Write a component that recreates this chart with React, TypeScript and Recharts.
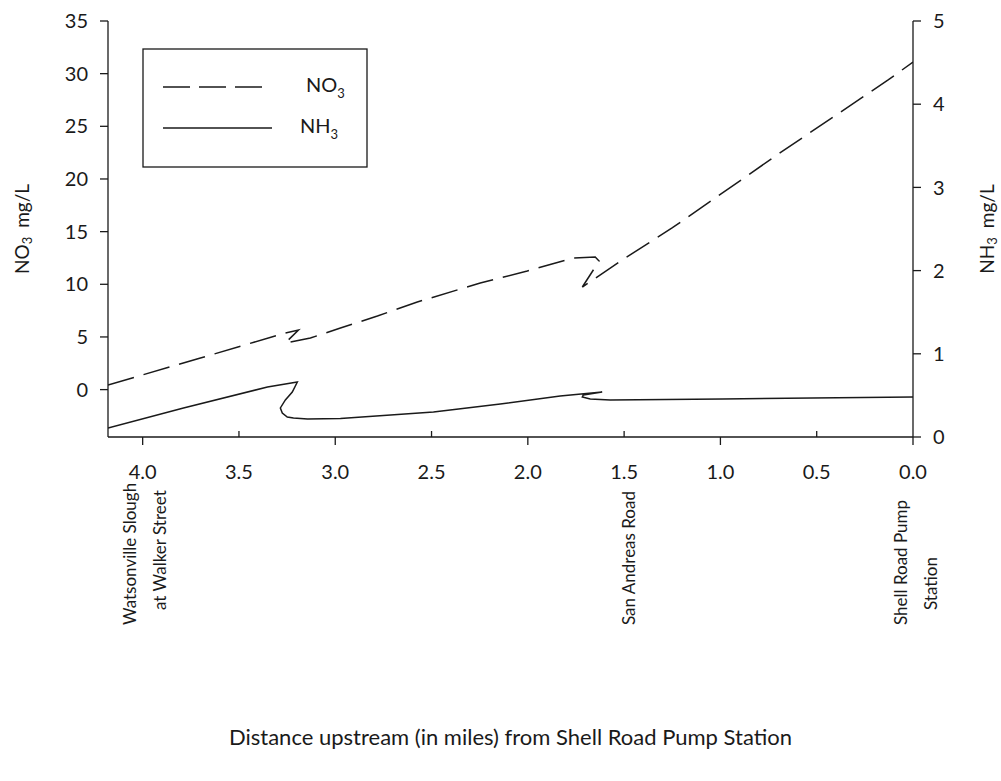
import React from 'react';
import { LineChart, Line, XAxis, YAxis, Legend, Label } from 'recharts';

const FONT = 'Lato, "Open Sans", sans-serif';
const INK = '#1a1a1a';

// axis ticks
const mileTicks = [4.0, 3.5, 3.0, 2.5, 2.0, 1.5, 1.0, 0.5, 0.0];
const no3Ticks = [0, 5, 10, 15, 20, 25, 30, 35];
const nh3Ticks = [0, 1, 2, 3, 4, 5];

// NO3 (mg/L) traced along the slough, left axis
const no3Miles = [4.18, 3.7, 3.259, 3.191, 3.259, 3.129, 2.973, 2.781, 2.574, 2.247, 2.003, 1.764, 1.65, 1.63, 1.717, 1.494, 1.251, 0.691, 0.129, 0.0];
const no3Values = [0.44, 3.0, 5.38, 5.66, 4.43, 4.9, 5.85, 6.99, 8.32, 10.12, 11.26, 12.5, 12.59, 12.21, 9.74, 12.5, 15.35, 22.47, 29.4, 31.1];

// NH3 (mg/L), right axis
const nh3Miles = [4.18, 3.788, 3.352, 3.197, 3.223, 3.259, 3.285, 3.275, 3.249, 3.217, 3.144, 2.973, 2.49, 2.143, 1.832, 1.614, 1.712, 1.717, 1.676, 1.572, 0.991, 0.0];
const nh3Values = [0.108, 0.349, 0.601, 0.661, 0.541, 0.445, 0.349, 0.288, 0.24, 0.228, 0.216, 0.221, 0.3, 0.397, 0.493, 0.541, 0.505, 0.481, 0.457, 0.445, 0.457, 0.481];

// sampling sites under the axis
const siteMiles = [4.0, 1.5, 0.0];
const siteNames = [['Watsonville Slough', 'at Walker Street'], ['San Andreas Road'], ['Shell Road Pump', 'Station']];

const no3Data = no3Miles.map((d, i) => ({ d, v: no3Values[i] }));
const nh3Data = nh3Miles.map((d, i) => ({ d, v: nh3Values[i] }));

const isMajor = (v: number) => Math.abs(v - Math.round(v)) < 1e-6;

function BottomTick(props: any) {
  const { x, y, payload } = props;
  const v = payload.value;
  return (
    <g>
      {isMajor(v) ? (
        <line x1={x} x2={x} y1={y} y2={y + 8} stroke={INK} strokeWidth={1.3} />
      ) : (
        <line x1={x} x2={x} y1={y} y2={y - 6} stroke={INK} strokeWidth={1.3} />
      )}
      <text x={x} y={y + 42} textAnchor="middle" fontSize={20} fontFamily={FONT} fill={INK}>
        {v.toFixed(1)}
      </text>
    </g>
  );
}

function TopTick(props: any) {
  const { x, y, payload } = props;
  if (isMajor(payload.value)) return <g />;
  return <line x1={x} x2={x} y1={y} y2={y + 6} stroke={INK} strokeWidth={1.3} />;
}

function SiteTick(props: any) {
  const { x, y, payload } = props;
  const idx = siteMiles.indexOf(payload.value);
  const lines = siteNames[idx] || [];
  const offsets = lines.length === 2 ? [-13, 17] : [4];
  const starts = [148, 133];
  return (
    <g>
      {lines.map((t, i) => {
        const cx = x + offsets[i];
        const cy = y + starts[i];
        return (
          <text
            key={t}
            x={cx}
            y={cy}
            transform={`rotate(-90, ${cx}, ${cy})`}
            textAnchor="start"
            dominantBaseline="central"
            fontSize={17}
            fontFamily={FONT}
            fill={INK}
          >
            {t}
          </text>
        );
      })}
    </g>
  );
}

function AxisTitle(props: any) {
  const { viewBox, name, side } = props;
  const { x, y, width, height } = viewBox;
  const cx = side === 'left' ? x + 21 : x + width - 15;
  const cy = y + height / 2;
  return (
    <text
      x={cx}
      y={cy}
      transform={`rotate(-90, ${cx}, ${cy})`}
      textAnchor="middle"
      dominantBaseline="central"
      fontSize={19}
      fontFamily={FONT}
      fill={INK}
    >
      {name}
      <tspan dy={6} fontSize={13}>3</tspan>
      <tspan dy={-6} dx={9}>mg/L</tspan>
    </text>
  );
}

function LegendBox() {
  return (
    <svg width={228} height={122} style={{ display: 'block' }}>
      <rect x={1} y={1} width={224} height={118} fill="#fff" stroke={INK} strokeWidth={1.3} />
      <line x1={21} x2={120} y1={39} y2={39} stroke={INK} strokeWidth={1.5} strokeDasharray="27 9" />
      <text x={164} y={44} fontSize={20} fontFamily={FONT} fill={INK}>
        NO<tspan dy={6} fontSize={13}>3</tspan>
      </text>
      <line x1={21} x2={130} y1={80} y2={80} stroke={INK} strokeWidth={1.5} />
      <text x={158} y={85} fontSize={20} fontFamily={FONT} fill={INK}>
        NH<tspan dy={6} fontSize={13}>3</tspan>
      </text>
    </svg>
  );
}

export default function App() {
  return (
    <div style={{ position: 'absolute', left: 0, top: 0, width: 1001, height: 781 }}>
      <LineChart width={1001} height={781} margin={{ top: 21, right: 0, bottom: 36, left: 0 }}>
        <XAxis
          xAxisId="main"
          dataKey="d"
          type="number"
          domain={[0, 4.18]}
          reversed
          allowDataOverflow
          ticks={mileTicks}
          interval={0}
          height={40}
          tickSize={0}
          tickMargin={0}
          tickLine={false}
          stroke={INK}
          strokeWidth={1.3}
          tick={BottomTick}
        />
        <XAxis
          xAxisId="sites"
          dataKey="d"
          type="number"
          domain={[0, 4.18]}
          reversed
          allowDataOverflow
          ticks={siteMiles}
          interval={0}
          height={268}
          tickSize={0}
          tickMargin={0}
          axisLine={false}
          tickLine={false}
          tick={SiteTick}
        >
          <Label
            value="Distance upstream (in miles) from Shell Road Pump Station"
            position="insideBottom"
            offset={0}
            fontSize={22}
            fontFamily={FONT}
            fill={INK}
          />
        </XAxis>
        <XAxis
          xAxisId="top"
          orientation="top"
          dataKey="d"
          type="number"
          domain={[0, 4.18]}
          reversed
          allowDataOverflow
          ticks={mileTicks}
          interval={0}
          height={0}
          tickSize={0}
          tickMargin={0}
          tickLine={false}
          stroke={INK}
          strokeWidth={1.3}
          tick={TopTick}
        />
        <YAxis
          yAxisId="no3"
          type="number"
          domain={[-4.5, 35]}
          allowDataOverflow
          ticks={no3Ticks}
          interval={0}
          width={108}
          tickSize={8}
          tickMargin={12}
          stroke={INK}
          strokeWidth={1.3}
          tick={{ fill: INK, fontSize: 20, fontFamily: FONT }}
          label={{ content: (p: any) => <AxisTitle {...p} name="NO" side="left" /> }}
        />
        <YAxis
          yAxisId="nh3"
          orientation="right"
          type="number"
          domain={[0, 5]}
          allowDataOverflow
          ticks={nh3Ticks}
          interval={0}
          width={88}
          tickSize={8}
          tickMargin={12}
          stroke={INK}
          strokeWidth={1.3}
          tick={{ fill: INK, fontSize: 20, fontFamily: FONT }}
          label={{ content: (p: any) => <AxisTitle {...p} name="NH" side="right" /> }}
        />
        <Legend
          layout="vertical"
          align="center"
          verticalAlign="middle"
          content={<LegendBox />}
          wrapperStyle={{ left: 142, top: 48, width: 228, height: 122 }}
        />
        <Line
          xAxisId="main"
          yAxisId="no3"
          data={no3Data}
          dataKey="v"
          name="NO3"
          type="linear"
          stroke={INK}
          strokeWidth={1.5}
          strokeDasharray="27 10"
          dot={false}
          activeDot={false}
          isAnimationActive={false}
        />
        <Line
          xAxisId="main"
          yAxisId="nh3"
          data={nh3Data}
          dataKey="v"
          name="NH3"
          type="linear"
          stroke={INK}
          strokeWidth={1.5}
          dot={false}
          activeDot={false}
          isAnimationActive={false}
        />
      </LineChart>
    </div>
  );
}
